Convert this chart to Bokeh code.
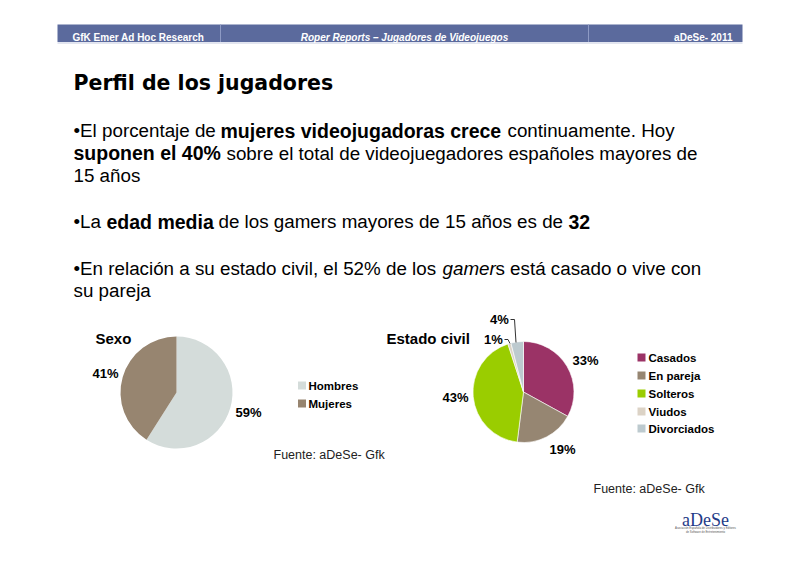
import math
from bokeh.plotting import figure
from bokeh.models import Range1d
from bokeh.core.properties import value
from bokeh.embed import file_html
from bokeh.resources import INLINE

# ---------------- data ----------------
sexo_labels = ["Hombres", "Mujeres"]
sexo_values = [59, 41]
sexo_colors = ["#D4DCDA", "#978570"]

civil_labels = ["Casados", "En pareja", "Solteros", "Viudos", "Divorciados"]
civil_values = [33, 19, 43, 1, 4]
civil_colors = ["#9B3366", "#968672", "#9ACD00", "#DCD3C6", "#BDCACF"]

SANS = "Liberation Sans"

p = figure(width=800, height=565, x_range=Range1d(0, 800), y_range=Range1d(565, 0),
           output_backend="svg", toolbar_location=None, min_border=0,
           x_axis_location=None, y_axis_location=None)
p.grid.visible = False
p.outline_line_color = None
p.background_fill_color = "white"
p.border_fill_color = "white"


def txt(x, y, s, size, style="normal", color="#000000", font=SANS, align="left", baseline="alphabetic"):
    p.text(x=[x], y=[y], text=[s], text_font=value(font), text_font_size=value(size),
           text_font_style=style, text_color=color, text_align=align, text_baseline=baseline)


# ---------------- header bar ----------------
p.quad(left=[57], right=[742], top=[24], bottom=[41.5], fill_color="#5B6A9D", line_color=None)
p.segment(x0=[220, 588], y0=[24, 24], x1=[220, 588], y1=[41.5, 41.5], line_color="#8E9AC4", line_width=1)
p.segment(x0=[57], y0=[42.5], x1=[742], y1=[42.5], line_color="#C5CBE0", line_width=1)
txt(72, 37, "GfK Emer Ad Hoc Research", "10px", "bold", "white")
txt(404, 37, "Roper Reports \u2013 Jugadores de Videojuegos", "10px", "bold italic", "white", align="center")
txt(732, 37, "aDeSe- 2011", "10px", "bold", "white", align="right")

# ---------------- title & body text ----------------
txt(73, 82, "Perfil de los jugadores", "20.5px", "bold", font="DejaVu Sans")

REG, BOLD = "18.8px", "19.5px"
segments = [
    # (x, baseline, text, style)
    (73, 130, "\u2022El porcentaje de ", "normal"),
    (220, 130, "mujeres videojugadoras crece", "bold"),
    (507, 130, "continuamente. Hoy", "normal"),
    (73, 152.5, "suponen el 40%", "bold"),
    (226, 152.5, "sobre el total de videojuegadores espa\u00f1oles mayores de", "normal"),
    (73, 175, "15 a\u00f1os", "normal"),
    (73, 221, "\u2022La ", "normal"),
    (106, 221, "edad media", "bold"),
    (218, 221, "de los gamers mayores de 15 a\u00f1os es de", "normal"),
    (568, 221, "32", "bold"),
    (73, 267.5, "\u2022En relaci\u00f3n a su estado civil, el 52% de los ", "normal"),
    (442, 267.5, "gamer", "italic"),
    (495, 267.5, "s est\u00e1 casado o vive con", "normal"),
    (73, 290, "su pareja", "normal"),
]
for x, y, s, st in segments:
    txt(x, y, s, BOLD if st == "bold" else REG, st)


# ---------------- pies ----------------
def pie(cx, cy, r, values, colors, line_color, lw):
    total = float(sum(values))
    cum = 0.0
    starts, ends = [], []
    for v in values:
        a0 = math.pi / 2 - 2 * math.pi * cum / total
        cum += v
        a1 = math.pi / 2 - 2 * math.pi * cum / total
        starts.append(a1)
        ends.append(a0)
    p.wedge(x=[cx] * len(values), y=[cy] * len(values), radius=r,
            start_angle=starts, end_angle=ends, direction="anticlock",
            fill_color=colors, line_color=line_color, line_width=lw)


# Sexo
txt(95, 338, "Sexo", "15px", "bold")
pie(176, 392, 56, sexo_values, sexo_colors, None, 0)
sexo_label_pos = [(248, 412), (105, 373)]
for (lx, ly), v in zip(sexo_label_pos, sexo_values):
    txt(lx, ly, f"{v}%", "13px", "bold", align="center", baseline="middle")
sexo_leg_y = [385, 403]
p.scatter(x=[301.5] * 2, y=sexo_leg_y, marker="square", size=8, fill_color=sexo_colors, line_color=None)
for ly, lab in zip(sexo_leg_y, sexo_labels):
    txt(308, ly, lab, "11.5px", "bold", baseline="middle")
txt(273, 454, "Fuente: aDeSe- Gfk", "12.5px", "normal", "#222222")

# Estado civil
txt(386, 338, "Estado civil", "15px", "bold")
pie(523, 391.5, 50.5, civil_values, civil_colors, "white", 0.6)
civil_label_pos = [(585, 360), (562, 449), (455, 397), (493, 339), (499, 319)]
for (lx, ly), v in zip(civil_label_pos, civil_values):
    txt(lx, ly, f"{v}%", "13px", "bold", align="center", baseline="middle")
# leader lines for the small slices
p.line(x=[504, 507.5, 509.5], y=[339, 339, 343], line_color="#333333", line_width=1)
p.line(x=[510, 514, 515.5], y=[319, 319, 342], line_color="#333333", line_width=1)
civil_leg_y = [357, 375, 393, 411, 428]
p.scatter(x=[641] * 5, y=civil_leg_y, marker="square", size=8, fill_color=civil_colors, line_color=None)
for ly, lab in zip(civil_leg_y, civil_labels):
    txt(648, ly, lab, "11.5px", "bold", baseline="middle")
txt(593, 488, "Fuente: aDeSe- Gfk", "12.5px", "normal", "#222222")

# ---------------- logo ----------------
txt(705, 519, "aDeSe", "18px", "normal", "#1F3C88", font="Liberation Serif", align="center")
txt(705, 527, "Asociaci\u00f3n Espa\u00f1ola de Distribuidores y Editores", "2.8px", "normal", "#555555", align="center")
txt(705, 531, "de Software de Entretenimiento", "2.8px", "normal", "#555555", align="center")

open("out.html", "w").write(file_html(p, INLINE))
